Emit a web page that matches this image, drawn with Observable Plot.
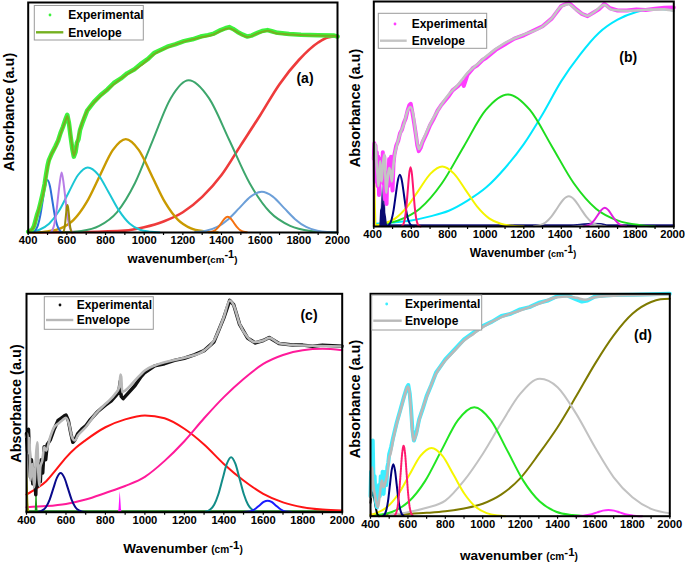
<!DOCTYPE html>
<html><head><meta charset="utf-8">
<script src="https://cdn.jsdelivr.net/npm/d3@7"></script>
<script src="https://cdn.jsdelivr.net/npm/@observablehq/plot@0.6"></script>
<style>
body{margin:0;background:#fff;}
#wrap{position:relative;width:685px;height:565px;overflow:hidden;font-family:Arial,"Liberation Sans",sans-serif;}
.panel{position:absolute}
.panel svg{overflow:visible}
</style></head><body><div id="wrap"></div>
<script>
// ---------- shared tick values ----------
const majorTicks = [400,600,800,1000,1200,1400,1600,1800,2000];
const minorTicks = [400,500,600,700,800,900,1000,1100,1200,1300,1400,1500,1600,1700,1800,1900,2000];

// ---------- panel (a) ----------
const aBlue = [[425,0],[437.5,1.0],[450,3.1],[462.5,7.4],[475,13.8],[487.5,20.1],[500,22.8],[512.5,20.1],[525,13.8],[537.5,7.4],[550,3.1],[562.5,1.0],[575,0]];
const aViolet = [[515,0],[525,1.1],[535,3.5],[545,8.5],[555,15.8],[563,21.5],[573,26.1],[583,21.5],[591,15.8],[601,8.5],[611,3.5],[621,1.1],[631,0]];
const aOlive = [[579,0],[583,0.5],[587,1.6],[591,3.9],[595,7.3],[599,10.6],[603,12],[607,10.6],[611,7.3],[615,3.9],[619,1.6],[623,0.5],[627,0]];
const aCyan = [[405,0],[458,1.2],[508,3.8],[558,9.2],[608,17.2],[658,25],[708,28.3],[762,25.2],[816,17.5],[870,9.5],[924,3.9],[978,1.2],[1032,0.3],[1080,0]];
const aGold = [[430,0],[500,0.5],[567.5,1.8],[635,5.5],[702.5,13.2],[770,24.6],[837.5,35.8],[905,40.6],[972.5,35.8],[1040,24.6],[1107.5,13.2],[1175,5.5],[1242.5,1.8],[1310,0.5],[1380,0]];
const aGreen = [[560,0],[675,0.7],[767.5,2.9],[860,8.9],[952.5,21.5],[1045,40.2],[1137.5,58.4],[1230,66.2],[1335,58.4],[1440,40.2],[1545,21.5],[1650,8.9],[1755,2.9],[1860,0.7],[1965,0.1],[2000,0]];
const aRed = [[400,0],[700,0.2],[900,0.8],[1000,2.3],[1100,4.8],[1200,8.8],[1300,15.5],[1400,25],[1500,38],[1600,51],[1700,64.5],[1800,75],[1900,82.6],[1950,84.8],[2000,85.3]];
const aOrange = [[1333,0.1],[1349.5,0.3],[1366,0.9],[1382.5,2.2],[1399,4.1],[1415.5,6],[1432,6.8],[1448.5,6],[1465,4.1],[1481.5,2.2],[1498,0.9],[1514.5,0.3],[1531,0.1]];
const aLightBlue = [[1263,0.2],[1320.5,0.8],[1378,2.4],[1435.5,5.8],[1493,10.7],[1550.5,15.6],[1608,17.7],[1665.5,15.6],[1723,10.7],[1780.5,5.8],[1838,2.4],[1895.5,0.8],[1953,0.2],[2000,0]];
const aEnv = [[400,0.5],[415,1],[429,2.3],[446,7.4],[464,12.6],[481,18.3],[490,23],[500,28],[515,33],[541,37],[567,42.8],[585,47],[593,48.6],[602,50.7],[610,48],[619,42.8],[628,37],[636,33.3],[648,37],[662,42.8],[680,48],[705,52.9],[740,56.5],[775,59.4],[843,64.5],[912,68.8],[981,72.5],[1051,77.5],[1120,80.4],[1206,83],[1292,84.8],[1361,86.2],[1396,87.7],[1440,88.8],[1483,87],[1534,85],[1586,86.5],[1638,87.7],[1690,86.5],[1811,85.9],[1900,85.6],[1983,85.5],[2000,85]];
const aExp = [[400,0.3],[420,1.2],[430,2.8],[445,7.5],[455,10],[464,13],[475,17],[485,21],[492,25],[500,29],[507,31.5],[520,34],[541,37.5],[555,40],[567,43.2],[580,46],[593,49.2],[602,51.2],[611,47.5],[619,42],[628,36.5],[636,33],[645,35],[652,39],[660,40.5],[668,44.5],[680,47.5],[705,53],[740,56.8],[775,59.8],[810,62.2],[843,65],[880,67],[912,69.2],[950,71],[981,73.2],[1020,75.5],[1051,78],[1090,79.6],[1120,80.8],[1160,81.8],[1206,83.2],[1250,84],[1292,85.2],[1330,85.8],[1361,86.5],[1396,88],[1420,88.8],[1440,89.3],[1460,88.5],[1483,87.2],[1510,86],[1534,85.2],[1555,85.6],[1586,86.8],[1610,87.6],[1638,88],[1660,87.5],[1690,86.8],[1750,86.3],[1811,86],[1900,85.8],[1983,85.6],[2000,85.2]];

// ---------- panel (b) ----------
const bCyan = [[400,1.2],[500,1.8],[600,2.7],[700,4.5],[800,7],[900,11.5],[1000,17.4],[1100,26],[1200,36.6],[1300,49.9],[1400,64.6],[1500,76.4],[1600,86],[1700,91.9],[1800,95.3],[1900,96.8],[2000,96]];
const bGreen = [[410,0.6],[527.5,2.6],[645,7.9],[762.5,19.1],[880,35.6],[997.5,51.8],[1115,58.7],[1232.5,51.8],[1350,35.6],[1467.5,19.1],[1585,7.9],[1702.5,2.6],[1820,0.6],[1900,0]];
const bYellow = [[400,0.4],[452.5,1.2],[515,3.6],[577.5,8.7],[640,16.2],[702.5,23.5],[765,26.7],[827.5,23.5],[890,16.2],[952.5,8.7],[1015,3.6],[1077.5,1.2],[1140,0.3],[1200,0]];
const bYellowSpike = [[400,24],[404,26],[408,25],[411,20],[414,8],[417,0]];
const bMagentaSpike = [[400,0],[401,20],[403,25],[405,18],[407,6],[409,0]];
const bNavySpikes = [[432,0],[436,7],[440,8],[443,19],[446,8],[449,21],[452,9],[455,18],[458,8],[461,16],[464,6],[468,4],[472,1],[476,0]];
const bNavy = [[473,0.3],[484,1],[495,3.1],[506,7.5],[517,14],[528,20.3],[539,23],[550,20.3],[561,14],[572,7.5],[583,3.1],[594,1],[605,0.3],[615,0]];
const bCrimson = [[551,0.3],[558.5,1.2],[566,3.6],[573.5,8.5],[581,15.9],[588.5,23.2],[596,26.3],[603.5,23.2],[611,15.9],[618.5,8.5],[626,3.6],[633.5,1.2],[641,0.3],[650,0]];
const bGray = [[1254,0.1],[1285,0.6],[1316,1.8],[1347,4.4],[1378,8.1],[1409,11.8],[1440,13.4],[1471,11.8],[1502,8.1],[1533,4.4],[1564,1.8],[1595,0.6],[1626,0.1]];
const bMagenta = [[1518,0.1],[1537,0.4],[1556,1.1],[1575,2.7],[1594,5],[1613,7.3],[1632,8.3],[1651,7.3],[1670,5],[1689,2.7],[1708,1.1],[1727,0.4],[1746,0.1]];
const bNavyBase = [[400,0.6],[1450,0.6],[1500,0.9],[1560,1.3],[1610,1.2],[1650,0.6],[2000,0.6]];
const bEnv = [[400,30],[405,34],[410,36.6],[415,28],[420,23],[425,18],[430,24],[434,29],[438,22],[442,20],[447,26],[452,30],[457,32],[462,22],[466,15],[469,17.5],[475,22],[482,26],[490,24],[496,20],[503,26],[510,31],[520,35.1],[540,41],[560,45.4],[580,51.3],[595,53.1],[610,49.9],[625,41],[640,34.4],[660,38],[700,45.4],[750,52.8],[800,58.7],[850,63.1],[900,68.3],[950,72],[1000,75.7],[1100,81.6],[1200,85.3],[1300,88.9],[1350,92.6],[1400,97.8],[1440,98.8],[1480,96.3],[1540,93.7],[1580,95.6],[1630,98.5],[1670,96.3],[1750,95.9],[1850,96.3],[1950,96.5],[2000,95.8]];
const bExp = [[400,30],[403,37],[406,20],[409,36],[412,26],[416,33],[420,18],[424,31],[428,14],[432,30],[436,22],[440,28],[444,20],[448,33],[452,19],[456,31],[460,12],[464,22],[468,10],[472,24],[477,18],[482,30],[487,26],[492,31],[496,20],[500,16],[505,28],[510,32],[515,34],[520,36],[530,38],[540,41.5],[550,43],[560,46],[570,48],[580,51.5],[590,54],[597,54.5],[605,51],[615,46],[625,40.5],[632,36],[640,33.5],[650,35],[660,37.5],[680,41],[700,45],[720,48],[740,51.5],[760,54],[780,56],[800,58],[820,60.5],[850,62.5],[870,64.5],[880,62.5],[900,67.5],[930,70.5],[950,71.5],[980,74],[1000,75],[1050,78.5],[1100,81],[1150,83.5],[1200,85],[1250,87],[1300,89],[1350,92.5],[1400,98],[1440,99.5],[1480,96.5],[1510,94.5],[1540,93.5],[1570,95],[1600,96.5],[1630,99],[1660,97],[1700,96],[1750,96],[1800,96.5],[1850,96.2],[1900,96.8],[1950,97.2],[2000,97.3]];

// ---------- panel (c) ----------
const cRed = [[400,8.1],[450,10.8],[500,14.2],[550,19.5],[600,25],[650,29.5],[700,33],[800,38.9],[900,42.5],[1000,44.3],[1100,43],[1200,38.2],[1300,31],[1400,22.1],[1500,14.5],[1600,8.4],[1700,4.5],[1800,2.3],[1900,1.2],[2000,0.8]];
const cPink = [[400,2.3],[500,2.8],[600,3.8],[700,5.8],[800,8.8],[900,12],[1000,16.2],[1100,23.5],[1200,32.5],[1300,43],[1400,52.7],[1500,61],[1600,67.9],[1700,72],[1800,74.2],[1900,74.8],[2000,74.2]];
const cNavy = [[462,0.2],[480.5,0.8],[499,2.4],[517.5,5.8],[536,10.9],[554.5,15.8],[573,17.9],[591.5,15.8],[610,10.9],[628.5,5.8],[647,2.4],[665.5,0.8],[684,0.2],[700,0]];
const cTeal = [[1308,0.3],[1329.5,1.1],[1351,3.4],[1372.5,8.2],[1394,15.3],[1415.5,22.2],[1437,25.2],[1458.5,22.2],[1480,15.3],[1501.5,8.2],[1523,3.4],[1544.5,1.1],[1566,0.3]];
const cBlue = [[1502,0.1],[1522,0.2],[1542,0.6],[1562,1.7],[1582,3.2],[1602,4.7],[1622,5.3],[1642,4.7],[1662,3.2],[1682,1.7],[1702,0.6],[1722,0.2],[1742,0.1]];
const cMagentaSpike = [[866,0],[869,1.3],[872,5.8],[875,9.5],[878,5.8],[881,1.3],[884,0]];
const cGreenSpike = [[444,0],[447,6],[450,15],[453,9],[456,3],[459,0]];
const cOliveSpike = [[400,23],[404,22],[408,14],[412,4],[416,0]];
const cGreenBase = [[400,0.4],[2000,0.4]];
const cEnv = [[400,34.4],[405,36],[410,27],[415,34],[420,14.5],[425,20],[430,22],[435,16],[440,11.5],[445,20],[450,28.2],[455,32],[460,18],[465,12],[470,20.6],[480,23.7],[490,29.8],[500,28.2],[520,34.4],[540,38.9],[560,40.5],[580,42],[600,43.2],[615,40.5],[630,34.4],[645,32.8],[660,35.1],[700,38.9],[750,45],[800,49.6],[850,54.2],[870,57.3],[876,63],[880,62],[885,55],[900,55.7],[950,60.3],[1000,64.9],[1050,67.2],[1100,68.7],[1200,70.7],[1300,74],[1350,78.6],[1400,89.3],[1430,96.9],[1450,94.7],[1480,86.3],[1520,80.2],[1560,77.9],[1600,78.6],[1630,79.8],[1680,77.4],[1800,76.3],[2000,75.9]];
const cExp = [[400,36],[405,28],[410,38],[415,26],[420,16],[425,24],[432,13],[440,20],[447,8],[452,24],[458,12],[463,22],[470,14],[475,24],[482,18],[490,30],[497,24],[505,31],[520,33],[540,38],[560,42],[575,43],[590,44],[600,44.5],[612,42],[625,36],[635,32],[645,33],[660,36],[680,38],[700,39.5],[720,42],[740,44],[760,46],[780,47.5],[800,49],[830,51],[850,53],[868,55],[875,60],[880,53],[890,52],[920,55],[950,58],[980,62],[1000,64],[1050,67],[1100,68],[1150,69.5],[1200,70.5],[1250,72],[1300,74],[1350,78],[1400,89],[1430,97],[1450,95],[1480,86],[1520,79.8],[1560,77.5],[1600,78.6],[1630,80],[1680,77.2],[1750,76.6],[1800,76.5],[1850,76],[1900,76.5],[2000,76]];

// ---------- panel (d) ----------
const dOlive = [[400,0.3],[600,1],[700,1.5],[800,2.2],[900,3.5],[1000,5.6],[1100,9.8],[1200,17],[1300,28],[1400,40],[1500,54],[1600,68.5],[1700,81.3],[1800,91],[1900,96.3],[1950,97.5],[2000,97.8]];
const dGray = [[500,0.5],[600,1.8],[700,3.8],[800,7],[900,16],[1000,28],[1100,42],[1200,55],[1305,61.8],[1400,58],[1500,46],[1600,31],[1700,17.5],[1800,8.5],[1900,3.3],[2000,1.3]];
const dGreen = [[430,0.5],[517.5,2],[605,6.6],[692.5,15.9],[780,29.7],[867.5,43.2],[955,49],[1042.5,43.2],[1130,29.7],[1217.5,15.9],[1305,6.6],[1392.5,2],[1480,0.5],[1560,0]];
const dYellow = [[400,0.7],[431,1.4],[490,4.2],[549,10],[608,18.6],[667,27.1],[726,30.7],[785,27.1],[844,18.6],[903,10],[962,4.2],[1021,1.4],[1080,0.3],[1120,0]];
const dCrimson = [[529,0.3],[537,1.4],[545,4.3],[553,10.3],[561,19.2],[569,28],[577,31.7],[585,28],[593,19.2],[601,10.3],[609,4.3],[617,1.4],[625,0.3]];
const dNavy = [[468,0.3],[477,1],[486,3.2],[495,7.6],[504,14.2],[513,20.6],[522,23.4],[531,20.6],[540,14.2],[549,7.6],[558,3.2],[567,1],[576,0.3]];
const dMagenta = [[1492,0],[1522,0.1],[1552,0.4],[1582,0.9],[1612,1.7],[1642,2.5],[1672,2.8],[1702,2.5],[1732,1.7],[1762,0.9],[1792,0.4],[1822,0.1],[1852,0]];
const dBlack = [[400,6],[405,9],[412,10.8],[420,8],[428,4],[436,1],[445,0]];
const dOrange = [[400,4.8],[404,4],[408,1.5],[412,0]];
const dEnv = [[400,8.5],[405,14],[409,22],[413,16],[418,12.3],[425,9],[432,6],[440,4],[450,10],[460,16],[470,13],[482,16],[490,19],[500,26.5],[507,28],[520,34],[540,41.5],[560,47.5],[580,53.5],[600,58.3],[608,56],[615,49],[622,40],[630,34],[645,37],[660,43],[700,53.5],[750,64],[800,70],[850,74.5],[900,79],[950,82],[1000,85],[1100,89.5],[1200,92.5],[1300,95.5],[1400,98.5],[1450,98.8],[1500,98.2],[1550,97.3],[1600,98.5],[1700,99.2],[1800,99.4],[2000,99.7]];
const dExp = [[400,9],[403,20],[406,12],[409,26],[412,34],[415,20],[418,14],[422,18],[426,9],[430,6],[435,4],[440,8],[445,14],[450,9],[455,18],[460,12],[465,20],[470,10],[475,16],[480,20],[485,14],[490,22],[495,24],[500,28],[510,31],[520,35],[540,42],[560,48],[580,54],[595,58],[602,59],[610,55],[617,48],[624,39],[632,34],[645,37.5],[660,43.5],[680,48.5],[700,54],[725,59],[750,64.5],[775,67.5],[800,70.5],[850,75],[900,79.5],[950,82.5],[1000,85.5],[1050,87.5],[1100,90],[1150,91],[1200,93],[1250,94],[1300,96],[1350,97],[1400,99],[1450,99.3],[1500,97.5],[1530,96.5],[1560,97],[1600,98.8],[1650,99.2],[1700,99.5],[1800,99.6],[1900,99.8],[2000,100]];

// ---------- panel configuration (layout + styles) ----------
const panels = [
  {left:0, top:0, w:345, h:280, mL:27.7, mR:8, mT:2, mB:48, tdx:0,
   comps:[
     {d:aRed,c:"#ee3b3b",w:2.6},{d:aGreen,c:"#3da66c"},{d:aGold,c:"#c99a00",w:2.4},{d:aCyan,c:"#1ac6d4"},
     {d:aLightBlue,c:"#6c9fd8"},{d:aOrange,c:"#f57212"},{d:aBlue,c:"#2d6fd8"},{d:aViolet,c:"#b77de6"},{d:aOlive,c:"#9a8a08"}],
   exp:aExp, expC:"#3cf23c", expW:4.5, env:aEnv, envC:"#74b020", envW:2},
  {left:340, top:0, w:345, h:280, mL:33.3, mR:11.7, mT:1, mB:54, tdx:-1.2,
   comps:[
     {d:bNavyBase,c:"#1a1a80",w:1.6},{d:bCyan,c:"#00e8ff"},{d:bGreen,c:"#1edd1e"},{d:bYellow,c:"#f4f400"},
     {d:bYellowSpike,c:"#f4f400",area:true},{d:bMagentaSpike,c:"#ff22ff",area:true},{d:bNavySpikes,c:"#0a0a70",area:true},
     {d:bNavy,c:"#000080"},{d:bCrimson,c:"#ff1670"},{d:bGray,c:"#bdbdbd"},{d:bMagenta,c:"#e01ee0"}],
   exp:bExp, expC:"#ff3cff", expW:4, env:bEnv, envC:"#c4c4c4", envW:2.6},
  {left:0, top:280, w:345, h:285, mL:26, mR:3.3, mT:13.3, mB:53.3, tdx:0,
   comps:[
     {d:cGreenBase,c:"#0a6a0a",w:2},{d:cRed,c:"#ff1414"},{d:cPink,c:"#ff1a9a"},{d:cNavy,c:"#0a0a8c"},{d:cTeal,c:"#128c88"},
     {d:cBlue,c:"#1a1aff"},{d:cMagentaSpike,c:"#ff10ff",area:true},{d:cGreenSpike,c:"#139a13",area:true},{d:cOliveSpike,c:"#9a9a00",area:true}],
   exp:cExp, expC:"#111111", expW:3.5, env:cEnv, envC:"#b8b8b8", envW:2.6},
  {left:340, top:280, w:345, h:285, mL:30, mR:15.7, mT:13.3, mB:49.3, tdx:0,
   comps:[
     {d:dOlive,c:"#7e7a00"},{d:dGray,c:"#c2c2c2"},{d:dGreen,c:"#22e622"},{d:dYellow,c:"#f6f600"},
     {d:dMagenta,c:"#ff2aff"},{d:dOrange,c:"#ff8a10",area:true},{d:dBlack,c:"#000000"},{d:dNavy,c:"#00007a"},
     {d:dCrimson,c:"#ff1a6e",dash:"1.6,1"}],
   exp:dExp, expC:"#3ceeff", expW:4, env:dEnv, envC:"#b9b9b9", envW:2.6}
];

const wrap = document.getElementById("wrap");
const X = d => d[0], Y = d => d[1];

for (const p of panels) {
  const marks = [];
  for (const c of p.comps) {
    if (c.area) marks.push(Plot.areaY(c.d, {x: X, y: Y, fill: c.c, curve: "linear"}));
    else marks.push(Plot.line(c.d, {x: X, y: Y, stroke: c.c, strokeWidth: c.w || 2, strokeDasharray: c.dash, curve: "monotone-x"}));
  }
  marks.push(Plot.line(p.exp, {x: X, y: Y, stroke: p.expC, strokeWidth: p.expW, curve: "linear", strokeLinejoin: "round"}));
  marks.push(Plot.line(p.env, {x: X, y: Y, stroke: p.envC, strokeWidth: p.envW, curve: "monotone-x"}));
  marks.push(Plot.frame({stroke: "#000", strokeWidth: 2}));
  marks.push(Plot.axisX({ticks: minorTicks, tickSize: 3, tickFormat: () => "", label: null, strokeWidth: 1.2}));
  marks.push(Plot.axisX({ticks: majorTicks, tickSize: 0, tickPadding: 4, tickFormat: d => String(d), label: null, dx: p.tdx}));
  const svg = Plot.plot({
    width: p.w, height: p.h,
    marginLeft: p.mL, marginRight: p.mR, marginTop: p.mT, marginBottom: p.mB,
    x: {domain: [400, 2000]},
    y: {domain: [0, 100], axis: null},
    style: {fontFamily: 'Arial, "Liberation Sans", sans-serif', fontSize: "11.2px", fontWeight: "bold", color: "#000", background: "none", overflow: "visible"},
    marks
  });
  const div = document.createElement("div");
  div.className = "panel";
  div.style.left = p.left + "px";
  div.style.top = p.top + "px";
  div.appendChild(svg);
  wrap.appendChild(div);
}

// ---------- text overlay: titles, legends, panel letters ----------
const ov = d3.select(wrap).append("svg")
  .attr("width", 685).attr("height", 565)
  .style("position", "absolute").style("left", 0).style("top", 0)
  .style("font-family", 'Arial, "Liberation Sans", sans-serif')
  .style("font-weight", "bold");

const yLabels = [[8.5,112],[355,108],[16,403.5],[355,399]];
for (const [x, y] of yLabels) {
  ov.append("text").attr("transform", `translate(${x},${y}) rotate(-90)`)
    .attr("text-anchor", "middle").attr("dy", "0.36em").attr("font-size", 14.5).text("Absorbance (a.u)");
}

const xLabels = [
  {x:182.5, y:262.5, word:"wavenumber", sep:"", fs:13},
  {x:523, y:257, word:"Wavenumber", sep:" ", fs:12},
  {x:183, y:553, word:"Wavenumber", sep:" ", fs:13.5},
  {x:519, y:560, word:"wavenumber", sep:" ", fs:13.5}
];
for (const l of xLabels) {
  const t = ov.append("text").attr("x", l.x).attr("y", l.y).attr("text-anchor", "middle").attr("font-size", l.fs);
  t.append("tspan").text(l.word + l.sep);
  t.append("tspan").attr("font-size", l.fs * 0.75).text("(cm");
  t.append("tspan").attr("font-size", l.fs * 0.85).attr("dy", -l.fs * 0.33).text("-1");
  t.append("tspan").attr("font-size", l.fs * 0.75).attr("dy", l.fs * 0.33).text(")");
}

const legends = [
  {bx:34.3, by:5.5, bw:109, bh:34.5, dot:[50,15], line:[36,63.3,32.3], tx:68.3, ty1:15, ty2:32.3, expC:"#3cf23c", envC:"#74b020"},
  {bx:378.3, by:13.3, bw:108.4, bh:35, dot:[395,24], line:[380,406.7,40.7], tx:411.7, ty1:24, ty2:40.7, expC:"#ff3cff", envC:"#c4c4c4"},
  {bx:44.3, by:296.7, bw:109, bh:32.6, dot:[60,305], line:[46,73.3,320], tx:76.7, ty1:305, ty2:320, expC:"#111111", envC:"#b8b8b8"},
  {bx:371.7, by:295, bw:110, bh:35, dot:[386.7,304], line:[373.3,401.7,320.7], tx:405, ty1:304, ty2:320.7, expC:"#3ceeff", envC:"#b9b9b9"}
];
const legendNames = ["Experimental", "Envelope"];
for (const g of legends) {
  ov.append("rect").attr("x", g.bx).attr("y", g.by).attr("width", g.bw).attr("height", g.bh)
    .attr("fill", "#fff").attr("stroke", "#9a9a9a").attr("stroke-width", 1);
  ov.append("circle").attr("cx", g.dot[0]).attr("cy", g.dot[1]).attr("r", 1.4).attr("fill", g.expC);
  ov.append("line").attr("x1", g.line[0]).attr("x2", g.line[1]).attr("y1", g.line[2]).attr("y2", g.line[2])
    .attr("stroke", g.envC).attr("stroke-width", 2.4);
  ov.append("text").attr("x", g.tx).attr("y", g.ty1).attr("dy", "0.36em").attr("font-size", 12).text(legendNames[0]);
  ov.append("text").attr("x", g.tx).attr("y", g.ty2).attr("dy", "0.36em").attr("font-size", 12).text(legendNames[1]);
}

const letters = [["(a)",305,78],["(b)",628.3,56.7],["(c)",309,315],["(d)",643,335]];
for (const [s, x, y] of letters) {
  ov.append("text").attr("x", x).attr("y", y).attr("dy", "0.36em").attr("text-anchor", "middle").attr("font-size", 14).text(s);
}
</script></body></html>
